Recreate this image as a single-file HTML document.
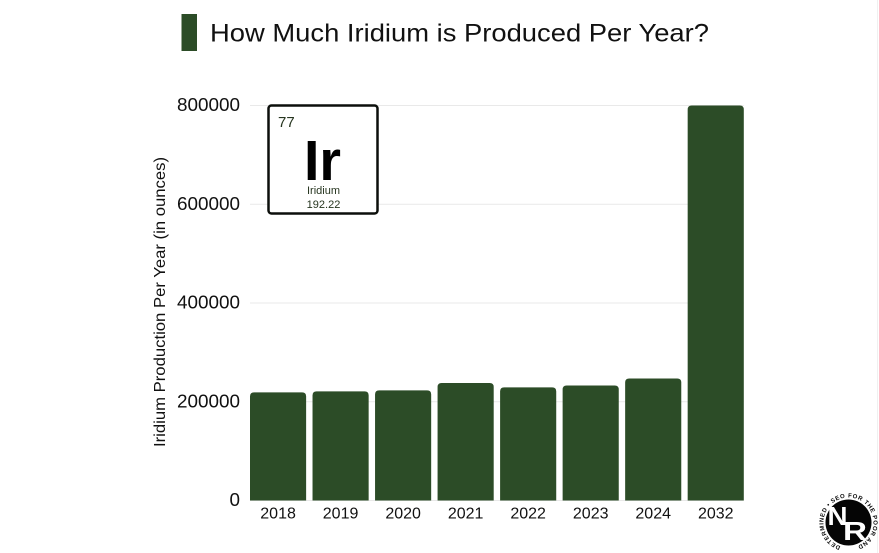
<!DOCTYPE html>
<html lang="en">
<head>
<meta charset="utf-8">
<title>How Much Iridium is Produced Per Year?</title>
<style>
html,body{margin:0;padding:0;background:#fff;}
body{width:879px;height:553px;overflow:hidden;}
svg{display:block;font-family:"Liberation Sans",sans-serif;}
</style>
</head>
<body>
<svg id="chart" width="879" height="553" viewBox="0 0 879 553" xmlns="http://www.w3.org/2000/svg">
  <rect x="0" y="0" width="879" height="553" fill="#ffffff"/>
  <rect x="877" y="0" width="1" height="553" fill="#f0f0f0"/>
  <rect x="181.5" y="14" width="15.5" height="37" fill="#2c4c27"/>
  <text x="210" y="41.5" font-size="25" fill="#111111" textLength="499" lengthAdjust="spacingAndGlyphs">How Much Iridium is Produced Per Year?</text>
  <g id="grid"></g>
  <g id="bars"></g>
  <g id="yticks"></g>
  <g id="xticks"></g>
  <text transform="translate(165,302) rotate(-90)" text-anchor="middle" font-size="16" fill="#111111" textLength="290" lengthAdjust="spacingAndGlyphs">Iridium Production Per Year (in ounces)</text>

  <g>
    <rect x="268.5" y="105.5" width="109" height="108" rx="3" ry="3" fill="#ffffff" stroke="#0c0f0b" stroke-width="2.5"/>
    <text x="278" y="127" font-size="15" fill="#26351f">77</text>
    <text x="304" y="180" font-size="57" font-weight="700" fill="#000000" textLength="37" lengthAdjust="spacingAndGlyphs">Ir</text>
    <text x="323.5" y="194" font-size="11" text-anchor="middle" fill="#26351f">Iridium</text>
    <text x="323.5" y="208" font-size="11" text-anchor="middle" fill="#26351f">192.22</text>
  </g>

  <g>
    <defs>
      <path id="logoRing" d="M 848.5 547.5 A 25 25 0 1 1 848.51 547.5"/>
    </defs>
    <circle cx="848.5" cy="522.5" r="29" fill="#ffffff"/>
    <circle cx="848.5" cy="522.5" r="23" fill="#050505"/>
    <text font-size="6" font-weight="700" fill="#0a0a0a" letter-spacing="0.6"><textPath href="#logoRing" startOffset="8">DETERMINED • SEO FOR THE POOR AND</textPath></text>
    <text x="827.5" y="525" font-size="26" font-weight="700" fill="#ffffff" textLength="20" lengthAdjust="spacingAndGlyphs">N</text>
    <text x="843" y="540" font-size="26" font-weight="700" fill="#ffffff" textLength="24" lengthAdjust="spacingAndGlyphs">R</text>
  </g>
</svg>
<script>
const categories = ["2018", "2019", "2020", "2021", "2022", "2023", "2024", "2032"];
const productionOunces = [219000, 221000, 223000, 238000, 229000, 233000, 247000, 800000];
const yTickValues = [0, 200000, 400000, 600000, 800000];

const NS = "http://www.w3.org/2000/svg";
const plot = { left: 250, right: 743.8, top: 105.5, bottom: 500.5 };
const yMax = 800000;
const pitch = (plot.right - plot.left + 6.4) / categories.length;
const barW = pitch - 6.4;

function yScale(v) {
  return plot.bottom - (v / yMax) * (plot.bottom - plot.top);
}
function xScale(i) {
  return plot.left + i * pitch;
}
function barPath(x, y, w, h, r) {
  const rr = Math.min(r, h);
  return "M" + x + " " + (y + h) + "V" + (y + rr) + "Q" + x + " " + y + " " + (x + rr) + " " + y +
    "H" + (x + w - rr) + "Q" + (x + w) + " " + y + " " + (x + w) + " " + (y + rr) + "V" + (y + h) + "Z";
}

const gridG = document.getElementById("grid");
const barsG = document.getElementById("bars");
const yG = document.getElementById("yticks");
const xG = document.getElementById("xticks");

yTickValues.forEach(function (v) {
  const line = document.createElementNS(NS, "line");
  
  
  line.setAttribute("x1", plot.left);
  line.setAttribute("x2", plot.right);
  line.setAttribute("y1", yScale(v));
  line.setAttribute("y2", yScale(v));
  line.setAttribute("stroke", "#e9e9e9");
  line.setAttribute("stroke-width", "1");
  gridG.appendChild(line);

  const label = String(v);
  const t = document.createElementNS(NS, "text");
  
  
  t.setAttribute("x", 240 - label.length * 10.5);
  t.setAttribute("y", yScale(v) + 5.5);
  t.setAttribute("font-size", "18");
  t.setAttribute("textLength", label.length * 10.5);
  t.setAttribute("lengthAdjust", "spacingAndGlyphs");
  t.setAttribute("fill", "#111111");
  t.textContent = label;
  yG.appendChild(t);
});

categories.forEach(function (c, i) {
  const x = xScale(i);
  const y = yScale(productionOunces[i]);
  const p = document.createElementNS(NS, "path");
  
  
  p.setAttribute("d", barPath(x, y, barW, plot.bottom - y, 4));
  p.setAttribute("fill", "#2c4c27");
  barsG.appendChild(p);

  const t = document.createElementNS(NS, "text");
  
  
  t.setAttribute("x", x + barW / 2);
  t.setAttribute("y", 518.5);
  t.setAttribute("text-anchor", "middle");
  t.setAttribute("font-size", "16");
  t.setAttribute("fill", "#111111");
  t.textContent = c;
  xG.appendChild(t);
});
</script>
</body>
</html>
